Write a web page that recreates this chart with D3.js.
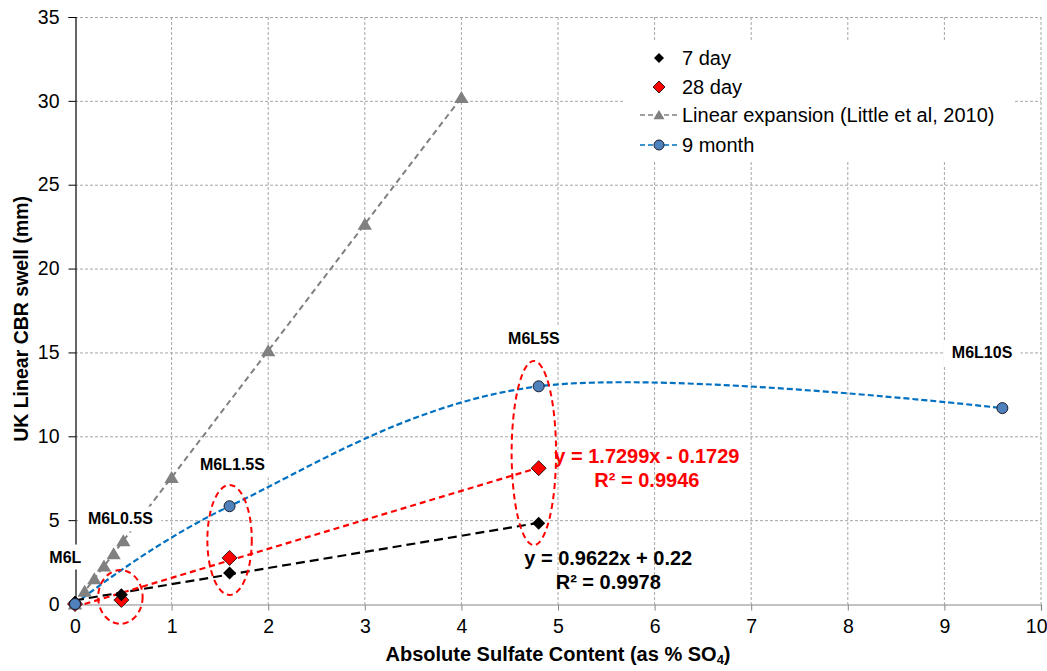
<!DOCTYPE html>
<html><head><meta charset="utf-8">
<script src="https://cdn.jsdelivr.net/npm/d3@7"></script>
<style>
html,body{margin:0;padding:0;background:#fff;}
svg{display:block;font-family:"Liberation Sans",Arial,sans-serif;}
</style></head>
<body><svg id="chart" width="1047" height="671"></svg>
<script>
// ---- data ----
const xTicks = [0,1,2,3,4,5,6,7,8,9,10];
const yTicks = [0,5,10,15,20,25,30,35];

const day7X = [0, 0.48, 1.6, 4.8];
const day7Y = [0.1, 0.55, 1.85, 4.82];

const day28X = [0, 0.48, 1.6, 4.8];
const day28Y = [0, 0.24, 2.75, 8.1];

const linearX = [0, 0.1, 0.2, 0.3, 0.4, 0.5, 1, 2, 3, 4];
const linearY = [0, 0.76, 1.5, 2.26, 3.0, 3.77, 7.55, 15.1, 22.65, 30.2];

const month9X = [0, 1.6, 4.8, 9.6];
const month9Y = [0, 5.83, 12.98, 11.68];

// trendline coefficients [slope, intercept]
const trend7 = [0.9622, 0.22];
const trend28 = [1.7299, -0.1729];

const mixLabels = ["M6L", "M6L0.5S", "M6L1.5S", "M6L5S", "M6L10S"];
const legendLabels = ["7 day", "28 day", "Linear expansion (Little et al, 2010)", "9 month"];

// ---- layout ----
const W = 1047, H = 671;
const svg = d3.select("#chart");
const x = d3.scaleLinear().domain([0,10]).range([75,1041]);
const y = d3.scaleLinear().domain([0,35]).range([604,17]);

const gridColor = "#a6a6a6";
// grid
svg.append("g").selectAll("line").data(xTicks.slice(1)).join("line")
  .attr("x1", d=>x(d)).attr("x2", d=>x(d)).attr("y1", y(35)).attr("y2", y(0))
  .attr("stroke", gridColor).attr("stroke-width",1).attr("stroke-dasharray","3,2");
svg.append("g").selectAll("line").data(yTicks.slice(1)).join("line")
  .attr("x1", x(0)).attr("x2", x(10)).attr("y1", d=>y(d)+0.5).attr("y2", d=>y(d)+0.5)
  .attr("stroke", gridColor).attr("stroke-width",1).attr("stroke-dasharray","3,2");

// legend background (covers gridlines)
svg.append("rect").attr("x",625).attr("y",40).attr("width",388).attr("height",122).attr("fill","#fff");

// axes
const xAxis = d3.axisBottom(x).tickValues(xTicks).tickSize(6).tickPadding(9).tickFormat(d3.format("d"));
const gx = svg.append("g").attr("transform",`translate(0,${y(0)+0.5})`).call(xAxis);
gx.select(".domain").attr("stroke","#868686").attr("stroke-width",1.2);
gx.selectAll(".tick line").attr("stroke","#868686");
gx.selectAll("text").attr("font-size",19.5).attr("fill","#000").attr("font-family","Liberation Sans, Arial");
gx.selectAll(".tick").filter(d=>d===10).select("text").attr("text-anchor","end").attr("dx",6);

const yAxis = d3.axisLeft(y).tickValues(yTicks).tickSize(7).tickPadding(9).tickFormat(d3.format("d"));
const gy = svg.append("g").attr("transform",`translate(${x(0)+0.5},0)`).call(yAxis);
gy.select(".domain").attr("stroke","#000").attr("stroke-width",1.2);
gy.selectAll(".tick line").attr("stroke","#000");
gy.selectAll("text").attr("font-size",19.5).attr("fill","#000").attr("font-family","Liberation Sans, Arial");

// series lines
const zip = (xs, ys) => xs.map((v,i)=>[v, ys[i]]);
const lineGen = d3.line().x(d=>x(d[0])).y(d=>y(d[1]));

svg.append("path").datum(zip(linearX, linearY)).attr("d", lineGen)
  .attr("fill","none").attr("stroke","#808080").attr("stroke-width",2).attr("stroke-dasharray","6,4");

svg.append("path").datum(zip(month9X, month9Y))
  .attr("d", d3.line().x(d=>x(d[0])).y(d=>y(d[1])).curve(d3.curveCardinal.tension(0)))
  .attr("fill","none").attr("stroke","#0070C0").attr("stroke-width",2.2).attr("stroke-dasharray","6,3");

const tr = (c, xs) => [[xs[0], c[0]*xs[0]+c[1]], [xs[xs.length-1], c[0]*xs[xs.length-1]+c[1]]];
svg.append("path").datum(tr(trend7, day7X)).attr("d", lineGen)
  .attr("fill","none").attr("stroke","#000").attr("stroke-width",2.2).attr("stroke-dasharray","9,5");
svg.append("path").datum(tr(trend28, day28X)).attr("d", lineGen)
  .attr("fill","none").attr("stroke","#ff0000").attr("stroke-width",2.2).attr("stroke-dasharray","6,4");

// markers
const diamond = s => `M0,${-s}L${s},0L0,${s}L${-s},0Z`;
const tri = s => `M0,${-s}L${s*1.1},${s*0.85}L${-s*1.1},${s*0.85}Z`;

svg.append("g").selectAll("path").data(zip(linearX, linearY)).join("path")
  .attr("transform", d=>`translate(${x(d[0])},${y(d[1])})`).attr("d", tri(6.5)).attr("fill","#808080");

svg.append("g").selectAll("path").data(zip(day28X, day28Y)).join("path")
  .attr("transform", d=>`translate(${x(d[0])},${y(d[1])})`).attr("d", diamond(7.5))
  .attr("fill","#ff0000").attr("stroke","#000").attr("stroke-width",0.8);

svg.append("g").selectAll("path").data(zip(day7X, day7Y)).join("path")
  .attr("transform", d=>`translate(${x(d[0])},${y(d[1])})`).attr("d", diamond(6.5))
  .attr("fill","#000");

svg.append("g").selectAll("circle").data(zip(month9X, month9Y)).join("circle")
  .attr("cx", d=>x(d[0])).attr("cy", d=>y(d[1])).attr("r",5.5)
  .attr("fill","#4F81BD").attr("stroke","#1b1b2b").attr("stroke-width",1);

// grouping ellipses (data units: cx, cy, rx, ry)
const ellipses = [[0.47, 0.42, 0.23, 1.6], [1.6, 3.82, 0.23, 3.28], [4.75, 9.0, 0.23, 5.49]];
svg.append("g").selectAll("ellipse").data(ellipses).join("ellipse")
  .attr("cx", d=>x(d[0])).attr("cy", d=>y(d[1]))
  .attr("rx", d=>x(d[2])-x(0)).attr("ry", d=>y(0)-y(d[3]))
  .attr("fill","none").attr("stroke","#ff0000").attr("stroke-width",2).attr("stroke-dasharray","6,4");

// mix labels with white backgrounds (data-unit anchors)
const labelPos = [[-0.1, 2.8], [0.47, 5.07], [1.63, 8.29], [4.75, 15.86], [9.39, 14.97]];
const labG = svg.append("g");
mixLabels.forEach((t,i)=>{
  const cx = x(labelPos[i][0]), cy = y(labelPos[i][1]);
  const txt = labG.append("text").attr("x",cx).attr("y",cy).attr("text-anchor","middle")
    .attr("dominant-baseline","central").attr("font-size",16).attr("font-weight","bold").text(t);
  const bb = txt.node().getBBox();
  labG.insert("rect", () => txt.node())
    .attr("x", bb.x-8).attr("y", bb.y-4).attr("width", bb.width+16).attr("height", bb.height+8).attr("fill","#fff");
});

// trendline equations
const eqs = [
  {lines:["y = 1.7299x - 0.1729","R² = 0.9946"], pos:[5.92, 8.41], color:"#ff0000"},
  {lines:["y = 0.9622x + 0.22","R² = 0.9978"], pos:[5.52, 2.33], color:"#000"}
];
eqs.forEach(e=>{
  e.lines.forEach((l,i)=>{
    svg.append("text").attr("x", x(e.pos[0])).attr("y", y(e.pos[1]) + i*24)
      .attr("text-anchor","middle").attr("font-size",20).attr("font-weight","bold")
      .attr("fill", e.color).text(l);
  });
});

// legend
const legY = [58, 87, 115, 145];
const lg = svg.append("g");
lg.append("path").attr("transform",`translate(659,${legY[0]})`).attr("d",diamond(5)).attr("fill","#000");
lg.append("path").attr("transform",`translate(659,${legY[1]})`).attr("d",diamond(6)).attr("fill","#ff0000").attr("stroke","#000").attr("stroke-width",0.8);
lg.append("line").attr("x1",640).attr("x2",678).attr("y1",legY[2]).attr("y2",legY[2]).attr("stroke","#808080").attr("stroke-width",1.5).attr("stroke-dasharray","5,3");
lg.append("path").attr("transform",`translate(659,${legY[2]})`).attr("d",tri(5)).attr("fill","#808080");
lg.append("line").attr("x1",640).attr("x2",678).attr("y1",legY[3]).attr("y2",legY[3]).attr("stroke","#0070C0").attr("stroke-width",1.5).attr("stroke-dasharray","5,3");
lg.append("circle").attr("cx",659).attr("cy",legY[3]).attr("r",5).attr("fill","#4F81BD").attr("stroke","#1b1b2b");
legendLabels.forEach((t,i)=>{
  lg.append("text").attr("x",682).attr("y",legY[i]).attr("dominant-baseline","central")
    .attr("font-size",20).text(t);
});

// axis titles
svg.append("text").attr("transform",`translate(21,${y(17)}) rotate(-90)`).attr("text-anchor","middle")
  .attr("dominant-baseline","central").attr("font-size",19.5).attr("font-weight","bold")
  .text("UK Linear CBR swell (mm)");
const xt = svg.append("text").attr("x", 558).attr("y", 661).attr("text-anchor","middle")
  .attr("font-size",20).attr("font-weight","bold");
xt.append("tspan").text("Absolute Sulfate Content (as % SO");
xt.append("tspan").attr("font-size",13).attr("dy",3).text("4");
xt.append("tspan").attr("dy",-3).text(")");
</script></body></html>
